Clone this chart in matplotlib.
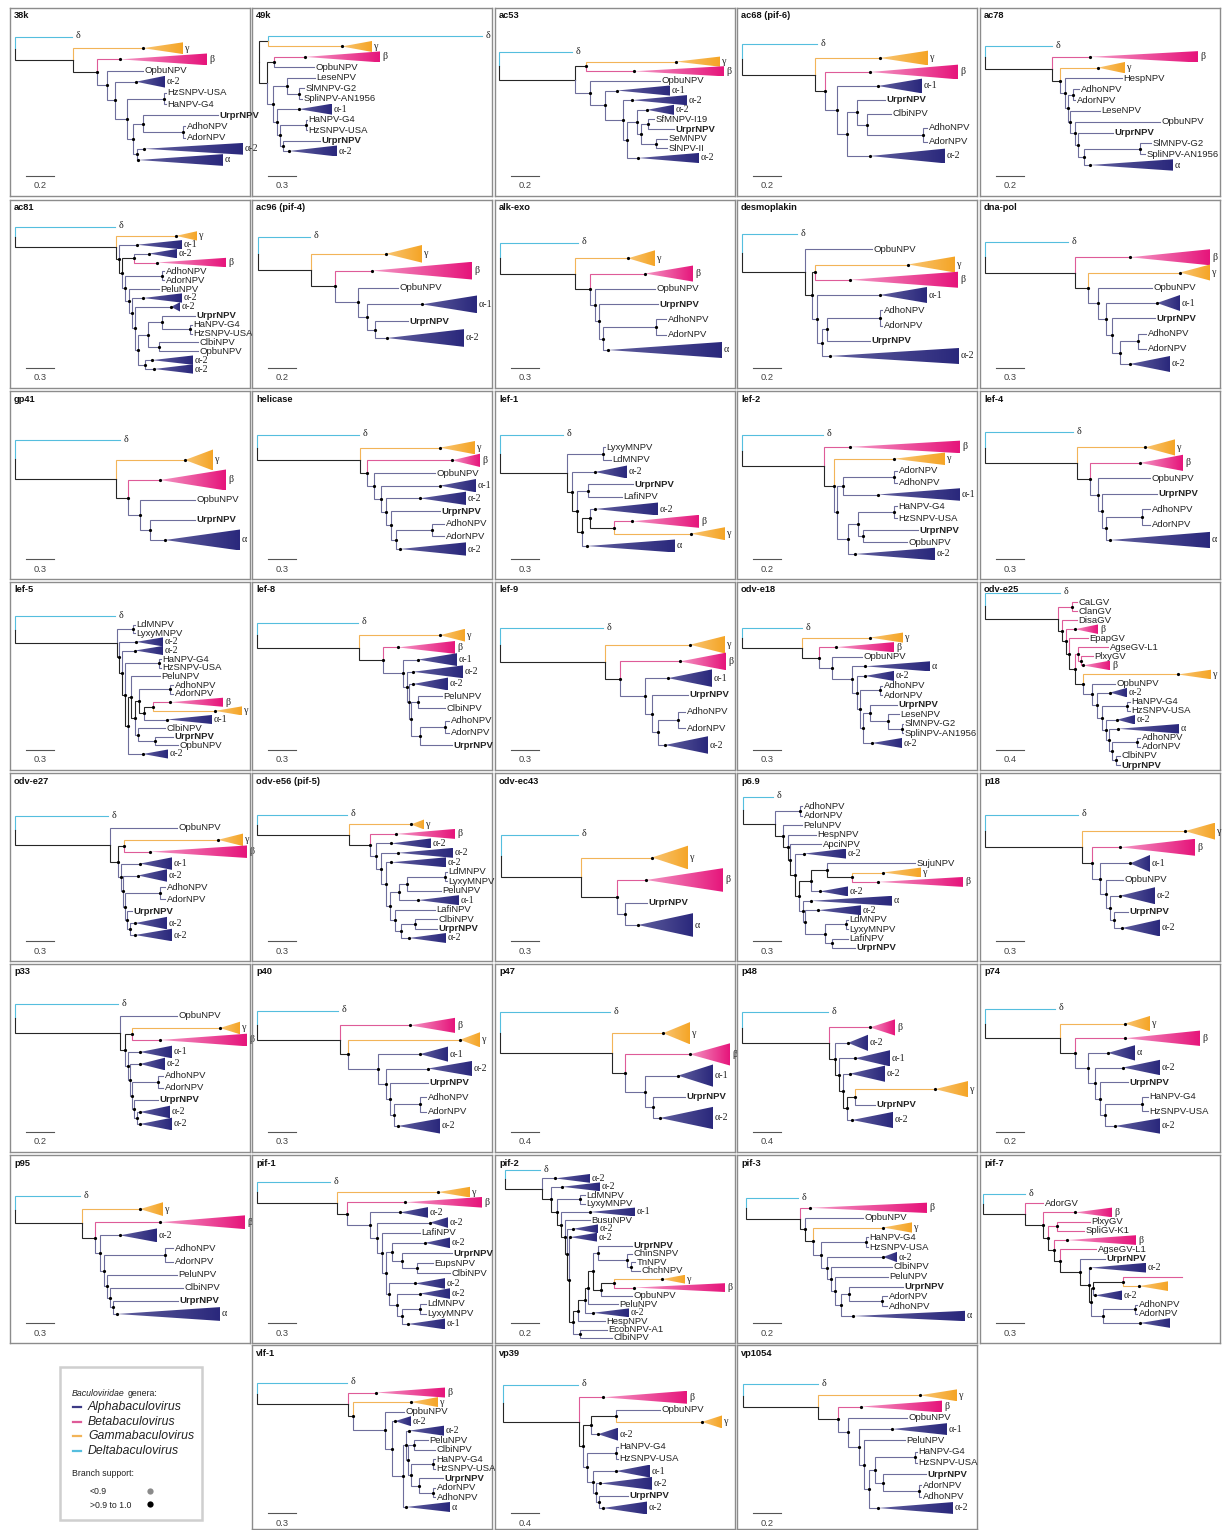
import numpy as np
import matplotlib
matplotlib.use('Agg')
import matplotlib.pyplot as plt
from matplotlib.patches import Polygon, Rectangle
from matplotlib.colors import to_rgb

plt.rcParams['font.family'] = ['Liberation Sans', 'DejaVu Sans']

# gene trees, one per panel; ":x" = x position (px inside the panel) of a node / tip,
# "A2:x0:x1" = collapsed clade drawn as a triangle from x0 to x1
TITLES = ['38k', '49k', 'ac53', 'ac68 (pif-6)', 'ac78',
          'ac81', 'ac96 (pif-4)', 'alk-exo', 'desmoplakin', 'dna-pol',
          'gp41', 'helicase', 'lef-1', 'lef-2', 'lef-4',
          'lef-5', 'lef-8', 'lef-9', 'odv-e18', 'odv-e25',
          'odv-e27', 'odv-e56 (pif-5)', 'odv-ec43', 'p6.9', 'p18',
          'p33', 'p40', 'p47', 'p48', 'p74',
          'p95', 'pif-1', 'pif-2', 'pif-3', 'pif-7',
          'vlf-1', 'vp39', 'vp1054']

TREES = [
    "(D:62,(G:133:173,(B:110:197,(OpbuNPV:133,(A2:126:155,((HzSNPV-USA:156,HaNPV-G4:156):154,((UrprNPV:208,(AdhoNPV:175,AdorNPV:175):173):133,(A2:134:233,A:128:213):127):123):117):105):97):87):63):5",
    "((D:230,G:90:120):16,((B:53:128,OpbuNPV:62):22,((LeseNPV:63,(SlMNPV-G2:52,SpliNPV-AN1956:50):47):35,(A1:47:80,((HaNPV-G4:55,HzSNPV-USA:55):54,(UrprNPV:68,A2:37:85):31):28):25):21):15):7",
    "(D:77,((G:181:225,B:139:229):91,(OpbuNPV:165,(A1:122:175,(A2:137:192,((A2:152:179,((SfMNPV-I19:159,UrprNPV:179):153,(SeMNPV:172,SlNPV-II:172):161):146):142,A2:143:204):132):128):110):95):80):4",
    "(D:80,(G:143:191,(B:133:221,(A1:141:185,((UrprNPV:148,(ClbiNPV:154,(AdhoNPV:190,AdorNPV:190):186):130):120,A2:133:208):110):100):88):78):5",
    "(D:72,(B:110:218,(G:118:145,(HespNPV:142,((AdhoNPV:99,AdorNPV:95):93,(LeseNPV:120,(OpbuNPV:180,(UrprNPV:133,((SlMNPV-G2:171,SpliNPV-AN1956:165):160,A:110:193):104):98):95):90):88):85):80):72):5",
    "(D:105,(G:166:187,(A1:127:172,((A2:139:167,B:147:216):124,((AdhoNPV:154,AdorNPV:154):152,(PeluNPV:149,(A2:133:172,(A2:161:170,(((UrprNPV:185,(HaNPV-G4:182,HzSNPV-USA:182):180):152,(ClbiNPV:188,OpbuNPV:188):149):138,(A2:142:183,A2:144:183):135):128):125):122):119):115):112):109):106):5",
    "(D:58,(G:134:170,(B:120:220,(OpbuNPV:146,(A1:170:225,(UrprNPV:156,A2:135:212):123):115):106):83):59):6",
    "(D:83,(G:133:160,(B:150:198,(OpbuNPV:160,(UrprNPV:163,((AdhoNPV:171,AdorNPV:171):161,A:113:227):108):104):100):95):80):5",
    "(D:60,(OpbuNPV:135,((G:171:218,B:113:221):78,(A1:143:190,(((AdhoNPV:145,AdorNPV:145):143,UrprNPV:133):90,A2:93:222):85):80):75):68):5",
    "(D:88,(B:150:230,(G:200:230,(OpbuNPV:172,(A1:177:200,(UrprNPV:175,((AdhoNPV:166,AdorNPV:166):158,A2:150:190):140):132):126):118):108):95):5",
    "(D:110,(G:175:203,(B:150:216,(OpbuNPV:185,(UrprNPV:185,A:155:230):140):130):118):106):5",
    "(D:107,(G:188:223,(B:200:228,(OpbuNPV:183,(A1:188:224,(A2:168:214,(UrprNPV:188,((AdhoNPV:192,AdorNPV:192):180,A2:148:214):144):139):134):129):122):115):108):5",
    "(D:68,((LyxyMNPV:110,LdMNPV:116):108,(A2:100:132,((UrprNPV:138,LafiNPV:127):93,((A2:100:163,(B:137:204,G:196:230):119):95,A:92:180):87):82):77):72):5",
    "(D:86,(B:113:223,(G:157:208,(((AdorNPV:160,AdhoNPV:160):157,A1:141:223):106,(((HaNPV-G4:160,HzSNPV-USA:160):157,(UrprNPV:181,OpbuNPV:170):126):121,A2:118:198):111):100):97):87):5",
    "(D:93,(G:165:195,(B:160:203,(OpbuNPV:170,(UrprNPV:177,((AdhoNPV:170,AdorNPV:170):162,A:130:230):126):122):118):110):97):5",
    "(D:105,((LdMNPV:125,LyxyMNPV:125):123,(A2:126:153,(A2:125:153,((HaNPV-G4:151,HzSNPV-USA:151):149,((PeluNPV:150,(((AdhoNPV:163,AdorNPV:163):160,((B:160:213,G:205:232):143,A1:157:202):134):129,(ClbiNPV:155,(UrprNPV:163,OpbuNPV:168):145):128):125):121,A2:133:158):118):115):112):109):107):5",
    "(D:106,(G:188:213,(B:146:203,(A1:166:205,(A2:161:211,(A2:161:196,((PeluNPV:190,ClbiNPV:193):166,((AdhoNPV:197,AdorNPV:197):193,UrprNPV:200):168):159):157):155):151):131):107):5",
    "(D:108,(G:195:230,(B:185:231,(A1:173:217,(UrprNPV:193,((AdhoNPV:190,AdorNPV:190):183,A2:170:213):163):157):150):125):110):5",
    "(D:65,(G:133:166,(B:99:157,(OpbuNPV:125,(A:128:193,(A2:128:157,((AdhoNPV:145,AdorNPV:145):143,((UrprNPV:160,(LeseNPV:162,(SlMNPV-G2:166,SpliNPV-AN1956:166):165):151):133,A2:135:165):126):123):120):115):95):82):65):5",
    "(D:80,((CaLGV:97,ClanGV:97):92,(DisaGV:97,(B:95:118,(EpapGV:108,((AgseGV-L1:128,(PlxyGV:113,B:103:130):101):98,(G:198:231,(OpbuNPV:135,(A2:130:147,((HaNPV-G4:150,HzSNPV-USA:150):147,(A2:137:155,(A:138:199,((AdhoNPV:160,AdorNPV:160):157,(ClbiNPV:140,UrprNPV:140):136):132):129):126):122):117):112):103):95):89):86):82):78):5",
    "(D:98,(OpbuNPV:167,((G:208:233,B:140:237):114,(A1:130:162,(A2:128:157,((AdhoNPV:155,AdorNPV:155):150,(UrprNPV:122,(A2:125:157,A2:125:162):120):117):115):113):111):108):100):5",
    "(D:95,(G:159:172,(B:144:203,(A2:139:179,(A2:146:201,(A2:139:194,((((LdMNPV:195,LyxyMNPV:195):193,PeluNPV:189):155,A1:166:207):147,(LafiNPV:183,((ClbiNPV:185,UrprNPV:185):163,A2:157:194):149):143):138):134):129):124):118):97):5",
    "(D:83,(G:157:193,(B:151:228,(UrprNPV:152,A:143:198):130):122):86):6",
    "(D:36,((AdhoNPV:65,AdorNPV:65):63,(PeluNPV:65,(HespNPV:79,(ApciNPV:84,(A2:67:109,(((SujuNPV:178,(G:146:184,B:141:226):115):90,A2:83:111):74,(A:74:155,(A2:81:124,((LdMNPV:111,LyxyMNPV:111):109,(LafiNPV:111,UrprNPV:118):95):88):68):66):62):58):53):51):46):38):6",
    "(D:98,(G:205:235,(B:140:215,(A1:150:170,(OpbuNPV:143,(A2:140:175,(UrprNPV:148,A2:142:180):134):130):126):120):112):102):5",
    "(D:108,(OpbuNPV:167,((G:210:230,B:150:237):122,(A1:130:162,(A2:130:155,((AdhoNPV:153,AdorNPV:153):148,(UrprNPV:148,(A2:130:160,A2:130:162):127):124):122):120):118):115):110):5",
    "(D:86,(B:158:203,(G:208:228,(A1:168:196,(A2:176:220,(UrprNPV:176,((AdhoNPV:174,AdorNPV:174):168,A2:146:188):142):138):134):126):96):88):5",
    "(D:115,(G:168:195,(B:195:235,(A1:183:218,(UrprNPV:190,A2:165:218):158):150):130):117):5",
    "(D:91,(B:133:158,(A2:111:131,(A1:118:153,(A2:113:148,((G:198:231,UrprNPV:138):118,A2:115:156):110):106):102):98):92):5",
    "(D:75,(G:145:170,(B:145:220,(A:128:155,(A2:143:180,(UrprNPV:148,((HaNPV-G4:168,HzSNPV-USA:168):162,A2:135:180):125):120):115):108):95):80):5",
    "(D:70,(G:130:153,(B:150:235,(A2:110:147,((AdhoNPV:163,AdorNPV:163):155,(PeluNPV:167,(ClbiNPV:173,(UrprNPV:168,A:107:210):103):100):97):94):90):85):72):5",
    "(D:78,(G:186:218,(B:153:230,(A2:148:176,(A2:178:196,(LafiNPV:168,((A2:173:198,(UrprNPV:200,(EupsNPV:181,ClbiNPV:198):165):150):140,(A2:163:193,(A2:168:198,((LdMNPV:174,LyxyMNPV:174):168,A1:156:193):150):145):137):134):130):125):118):95):85):5",
    "(D:45,(A2:60:95,(A2:67:105,((LdMNPV:90,LyxyMNPV:90):85,(A1:95:140,(BusuNPV:95,(A2:78:103,(A2:75:102,((((((UrprNPV:137,(ChinSNPV:137,(TnNPV:140,ChchNPV:145):136):132):103,((G:167:190,B:139:230):119,OpbuNPV:137):106):98,PeluNPV:123):93,A2:98:134):90,HespNPV:110):83,(EcobNPV-A1:112,ClbiNPV:117):85):78):74):72):70):66):62):56):47):10",
    "(D:61,(B:73:190,(OpbuNPV:126,(G:146:175,((HaNPV-G4:131,HzSNPV-USA:131):129,(A2:146:160,(ClbiNPV:155,(PeluNPV:151,((UrprNPV:166,(AdorNPV:150,AdhoNPV:150):145):112,A:116:228):104):98):94):90):84):76):68):63):9",
    "(D:45,(AdorGV:63,(B:95:132,((PlxyGV:110,SpliGV-K1:104):77,(B:87:156,(AgseGV-L1:116,(UrprNPV:125,(A2:110:166,(((b_:202,G_:159:188):143,A2:115:142):113,((AdhoNPV:157,AdorNPV:157):155,A_:160:190):123):111):109):100):80):74):68):63):45):3",
    "(D:95,(B:124:193,(G:159:186,(OpbuNPV:152,(A2:143:159,((A2:157:192,((PeluNPV:176,ClbiNPV:183):162,((HaNPV-G4:183,HzSNPV-USA:183):181,(UrprNPV:191,(AdorNPV:183,AdhoNPV:183):181):167):159):156):154,A:154:198):151):140):133):101):96):5",
    "(D:83,(B:108:192,(((OpbuNPV:165,G:207:227):121,A2:103:123):96,((HaNPV-G4:123,HzSNPV-USA:123):121,(A1:121:155,(A2:105:157,(UrprNPV:133,A2:108:152):104):101):98):92):88):84):8",
    "(D:81,(G:183:220,(B:124:205,(OpbuNPV:170,(A1:155:210,(PeluNPV:168,(((HaNPV-G4:180,HzSNPV-USA:180):178,(UrprNPV:189,(AdorNPV:184,AdhoNPV:184):182):146):138,A2:141:216):132):127):122):111):101):81):6",
]

SCALES = ['0.2', '0.3', '0.2', '0.2', '0.2',
          '0.3', '0.2', '0.3', '0.2', '0.3',
          '0.3', '0.3', '0.3', '0.2', '0.3',
          '0.3', '0.3', '0.3', '0.3', '0.4',
          '0.3', '0.3', '0.3', '0.3', '0.3',
          '0.2', '0.3', '0.4', '0.4', '0.2',
          '0.3', '0.3', '0.2', '0.2', '0.3',
          '0.3', '0.4', '0.2']

# layout: y of first and last tip inside each panel (px)
LEAF_SPAN = [(29, 152), (28, 143), (44, 150), (36, 148), (38, 157),
             (27, 169), (37, 138), (43, 150), (34, 156), (42, 164),
             (49, 149), (44, 158), (44, 155), (44, 163), (41, 149),
             (34, 172), (41, 163), (46, 163), (46, 161), (11, 183),
             (43, 162), (42, 165), (62, 152), (24, 175), (42, 155),
             (40, 160), (47, 162), (48, 154), (48, 156), (45, 162),
             (41, 159), (27, 169), (15, 183), (43, 161), (39, 168),
             (38, 162), (40, 163), (39, 163)]

GENERA = ['Alphabaculovirus', 'Betabaculovirus', 'Gammabaculovirus', 'Deltabaculovirus']

GREEK = {'D': 'δ', 'G': 'γ', 'B': 'β', 'A': 'α', 'A1': 'α-1', 'A2': 'α-2'}
LINE_COL = {'alpha': '#6e6e9c', 'beta': '#de5b98', 'gamma': '#f2b458',
            'delta': '#55bede', None: '#262626'}
TRI_COL = {'alpha': '#2a287c', 'beta': '#e6157b', 'gamma': '#f5a526'}
TRI_LIGHT = {'alpha': 0.25, 'beta': 0.55, 'gamma': 0.35}

W, H = 1226, 1530
COLS = [10, 252, 495, 737, 980]
ROWS = [8, 200, 391, 582, 773, 964, 1155, 1345]
PW = 240


def parse(s):
    pos = 0

    def token():
        nonlocal pos
        st = pos
        while pos < len(s) and s[pos] not in ',()':
            pos += 1
        return s[st:pos]

    def node():
        nonlocal pos
        if s[pos] == '(':
            pos += 1
            kids = [node()]
            while s[pos] == ',':
                pos += 1
                kids.append(node())
            assert s[pos] == ')'
            pos += 1
            return {'kids': kids, 'x': float(token().lstrip(':'))}
        parts = token().split(':')
        leaf = {'name': parts[0], 'x': float(parts[1])}
        if len(parts) > 2:
            leaf['end'] = float(parts[2])
        return leaf

    t = node()
    assert pos == len(s), s
    return t


def genus(name):
    c = name.rstrip('_')
    if c == 'D':
        return 'delta'
    if c == 'G':
        return 'gamma'
    if c in ('B', 'b') or 'GV' in c:
        return 'beta'
    return 'alpha'


def leaves(t):
    if 'kids' not in t:
        return [t]
    out = []
    for k in t['kids']:
        out += leaves(k)
    return out


def prepare(t):
    if 'kids' not in t:
        t['genus'] = genus(t['name'])
        return {t['genus']}
    gs = set()
    for k in t['kids']:
        gs |= prepare(k)
    t['y'] = (t['kids'][0]['y'] + t['kids'][-1]['y']) / 2
    t['genus'] = list(gs)[0] if len(gs) == 1 else None
    return gs


def triangle(ax, x0, x1, y, h, g):
    poly = Polygon([(x0, y), (x1, y - h / 2), (x1, y + h / 2)], closed=True,
                   facecolor='none', edgecolor='none')
    ax.add_patch(poly)
    c1 = np.array(to_rgb(TRI_COL[g]))
    c0 = c1 + (1 - c1) * TRI_LIGHT[g]
    ramp = np.linspace(0, 1, 64)[None, :, None]
    img = c0 + (c1 - c0) * ramp
    im = ax.imshow(img, extent=(x0, x1, y + h / 2, y - h / 2), aspect='auto',
                   interpolation='bilinear', zorder=2)
    im.set_clip_path(poly)


def draw(ax, t, h, depth=0):
    for k in t['kids']:
        col = LINE_COL[k['genus']]
        ax.plot([t['x'], t['x'], k['x']], [t['y'], k['y'], k['y']], color=col,
                lw=0.8, solid_joinstyle='miter', zorder=1)
        if 'kids' in k:
            draw(ax, k, h, depth + 1)
            continue
        name = k['name']
        if 'end' in k:
            triangle(ax, k['x'], k['end'], k['y'], h, k['genus'])
            ax.plot(k['x'], k['y'], 'o', color='black', ms=2.3, mew=0, zorder=4)
            if not name.endswith('_'):
                ax.text(k['end'] + 2, k['y'], GREEK[name], fontsize=7.2,
                        family='Liberation Serif', va='center', color='#222')
        elif name == 'D':
            ax.text(k['x'] + 4, k['y'] - 1, GREEK['D'], fontsize=7.2,
                    family='Liberation Serif', va='center', color='#222')
        elif not name.endswith('_'):
            ax.text(k['x'] + 1.5, k['y'], name, fontsize=6.8, va='center',
                    color='#222', weight='bold' if name == 'UrprNPV' else 'normal')
    if depth >= 2:
        ax.plot(t['x'], t['y'], 'o', color='black', ms=2.3, mew=0, zorder=4)


fig = plt.figure(figsize=(W / 100, H / 100), dpi=100)

slots = [(r, c) for r in range(7) for c in range(5)] + [(7, 1), (7, 2), (7, 3)]
for i, (r, c) in enumerate(slots):
    ph = 188 if r < 7 else 184
    ax = fig.add_axes([COLS[c] / W, 1 - (ROWS[r] + ph) / H, PW / W, ph / H])
    ax.set_facecolor('none')
    tree = parse(TREES[i])
    lv = leaves(tree)
    top, bot = LEAF_SPAN[i]
    sp = (bot - top) / (len(lv) - 1)
    for j, leaf in enumerate(lv):
        leaf['y'] = top + j * sp
    prepare(tree)
    draw(ax, tree, sp * 1.05)
    ax.text(4, 8, TITLES[i], fontsize=6.7, weight='bold', va='center', color='#111')
    ax.plot([16, 44], [168, 168], color='#555', lw=0.8)
    ax.text(30, 178, SCALES[i], fontsize=6.7, ha='center', va='center', color='#444')
    ax.set_xlim(0, PW)
    ax.set_ylim(ph, 0)
    ax.set_xticks([])
    ax.set_yticks([])
    for s in ax.spines.values():
        s.set_color('#8c8c8c')
        s.set_linewidth(1.0)

# legend panel
lg = fig.add_axes([0, 0, 1, 1], facecolor='none')
lg.set_xlim(0, W)
lg.set_ylim(H, 0)
lg.axis('off')
lg.add_patch(Rectangle((60, 1367), 142, 153, facecolor='none', edgecolor='#cfcfcf', lw=1.8))
t1 = lg.text(72, 1393, 'Baculoviridae', style='italic', fontsize=6.3, va='center', color='#222')
fig.canvas.draw()
bb = t1.get_window_extent()
lg.text(72 + bb.width + 2.5, 1393, 'genera:', fontsize=6.3, va='center', color='#222')
for j, g in enumerate(GENERA):
    y = 1407 + j * 14.7
    col = LINE_COL[['alpha', 'beta', 'gamma', 'delta'][j]]
    if j == 0:
        col = '#3d3b86'
    lg.plot([73, 81], [y, y], color=col, lw=1.6)
    lg.text(88, y, g, style='italic', fontsize=8.8, va='center', color='#222')
lg.text(72, 1473, 'Branch support:', fontsize=6.3, va='center', color='#222')
lg.text(90, 1492, '<0.9', fontsize=6.3, va='center', color='#222')
lg.text(90, 1505, '>0.9 to 1.0', fontsize=6.3, va='center', color='#222')
lg.plot(150, 1491, 'o', color='#8a8a8a', ms=4.5, mew=0)
lg.plot(150, 1504, 'o', color='black', ms=4.5, mew=0)

fig.savefig('out.png', dpi=100)
